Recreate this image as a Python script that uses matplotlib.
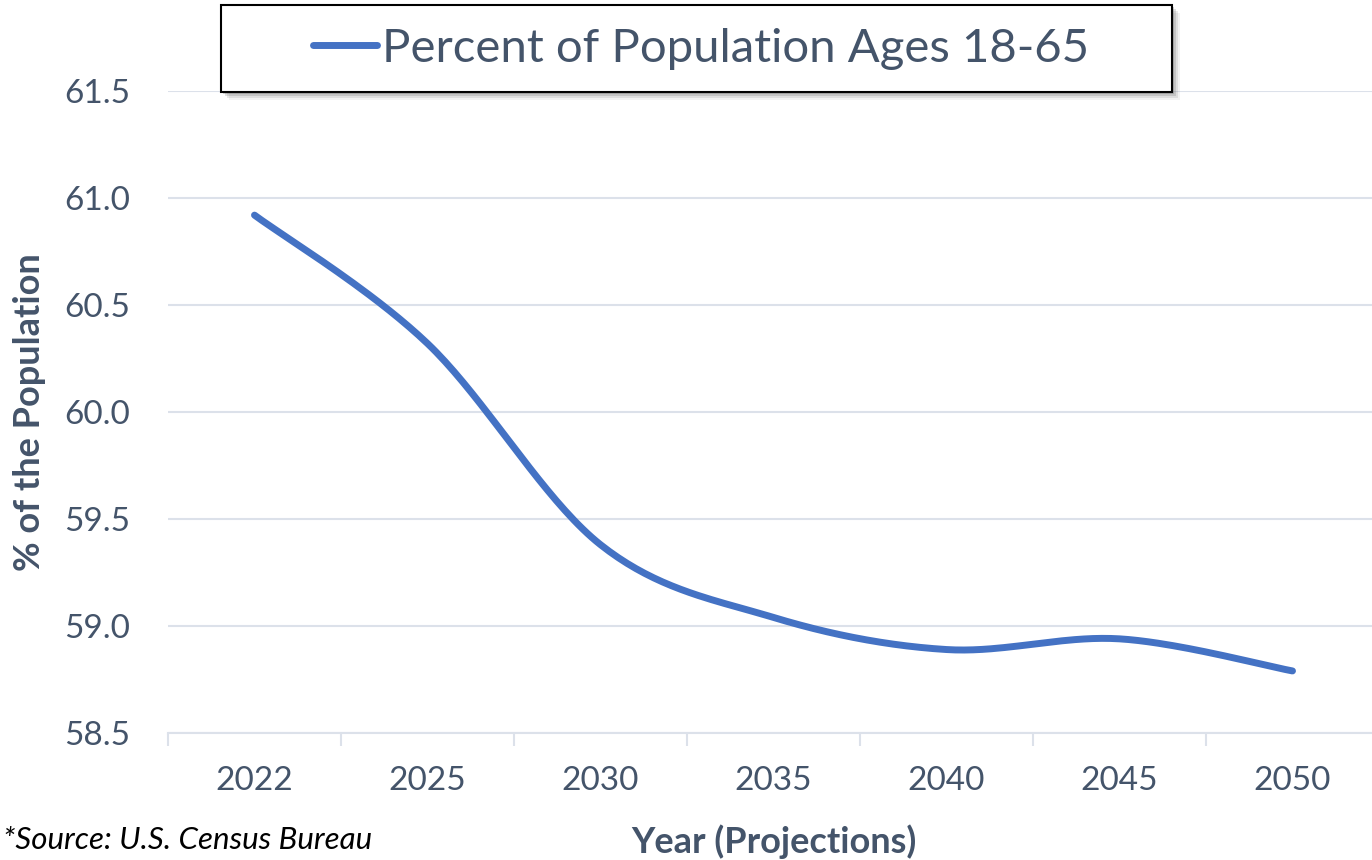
import numpy as np
import matplotlib.pyplot as plt
from matplotlib.patches import Rectangle

# data
years = ['2022', '2025', '2030', '2035', '2040', '2045', '2050']
pct_18_65 = [60.92, 60.32, 59.38, 59.04, 58.89, 58.94, 58.79]
y_ticks = [58.5, 59.0, 59.5, 60.0, 60.5, 61.0, 61.5]

text_color = '#44546A'
line_color = '#4472C4'
grid_color = '#DCE1EA'

plt.rcParams['font.family'] = ['Lato', 'DejaVu Sans']


def smooth(xs, ys, n=40):
    # Catmull-Rom style smoothing, like Excel's "smoothed line"
    xs = np.asarray(xs, float)
    ys = np.asarray(ys, float)
    px = np.concatenate([[xs[0]], xs, [xs[-1]]])
    py = np.concatenate([[ys[0]], ys, [ys[-1]]])
    out_x, out_y = [], []
    for i in range(1, len(px) - 2):
        t = np.linspace(0, 1, n)
        p0x, p1x, p2x, p3x = px[i - 1], px[i], px[i + 1], px[i + 2]
        p0y, p1y, p2y, p3y = py[i - 1], py[i], py[i + 1], py[i + 2]
        c1x, c1y = p1x + (p2x - p0x) / 6, p1y + (p2y - p0y) / 6
        c2x, c2y = p2x - (p3x - p1x) / 6, p2y - (p3y - p1y) / 6
        bx = (1 - t) ** 3 * p1x + 3 * (1 - t) ** 2 * t * c1x + 3 * (1 - t) * t ** 2 * c2x + t ** 3 * p2x
        by = (1 - t) ** 3 * p1y + 3 * (1 - t) ** 2 * t * c1y + 3 * (1 - t) * t ** 2 * c2y + t ** 3 * p2y
        out_x.extend(bx)
        out_y.extend(by)
    return np.array(out_x), np.array(out_y)


fig = plt.figure(figsize=(13.72, 8.6), dpi=100)
ax = fig.add_axes([168 / 1372, 127 / 860, 1211 / 1372, 642 / 860])

x = np.arange(len(years))
sx, sy = smooth(x, pct_18_65)
ax.plot(sx, sy, color=line_color, linewidth=5, solid_capstyle='round',
        label='Percent of Population Ages 18-65')

ax.set_xlim(-0.5, len(years) - 0.5)
ax.set_ylim(58.5, 61.5)
ax.set_yticks(y_ticks)
ax.set_yticklabels([f'{v:.1f}' for v in y_ticks])
ax.set_xticks(x)
ax.set_xticklabels(years)
ax.set_xticks(np.arange(len(years) + 1) - 0.5, minor=True)

ax.grid(axis='y', color=grid_color, linewidth=1.5)
ax.set_axisbelow(True)
for s in ['top', 'right', 'left']:
    ax.spines[s].set_visible(False)
ax.spines['bottom'].set_color(grid_color)
ax.spines['bottom'].set_linewidth(1.5)

ax.tick_params(axis='y', length=0, pad=27, labelsize=24, labelcolor=text_color)
ax.tick_params(axis='x', which='major', length=0, pad=24, labelsize=24, labelcolor=text_color)
ax.tick_params(axis='x', which='minor', length=9, width=1.5, color=grid_color)

ax.set_ylabel('% of the Population', fontsize=26, fontweight='bold', color=text_color)
ax.yaxis.set_label_coords(-0.114, 0.5)
ax.yaxis.label.set_va('center')
ax.set_xlabel('Year (Projections)', fontsize=26, fontweight='bold', color=text_color)
ax.xaxis.set_label_coords(0.5, -0.17)
ax.xaxis.label.set_va('center')

fig.text(3 / 1372, 1 - 840 / 860, '*Source: U.S. Census Bureau', fontsize=22.5,
         style='italic', color='black', ha='left', va='center')

# legend box with a soft shadow
bx0, by0, bw, bh = 221 / 1372, 1 - 92 / 860, 951 / 1372, 87 / 860
for k, a in [(8, 0.08), (6, 0.12), (4, 0.18), (2, 0.25)]:
    fig.add_artist(Rectangle((bx0 + k / 1372, by0 - k / 860), bw, bh,
                             transform=fig.transFigure, facecolor='#505050',
                             edgecolor='none', alpha=a, zorder=2))
fig.add_artist(Rectangle((bx0, by0), bw, bh, transform=fig.transFigure,
                         facecolor='white', edgecolor='black', linewidth=1.5, zorder=3))

handles, labels = ax.get_legend_handles_labels()
leg = fig.legend(handles, labels, loc='center', bbox_to_anchor=(701 / 1372, 1 - 49 / 860),
                 frameon=False, fontsize=34, handlelength=1.35, handletextpad=0.12,
                 labelcolor=text_color)
leg.set_zorder(4)

fig.savefig('out.png', dpi=100)
